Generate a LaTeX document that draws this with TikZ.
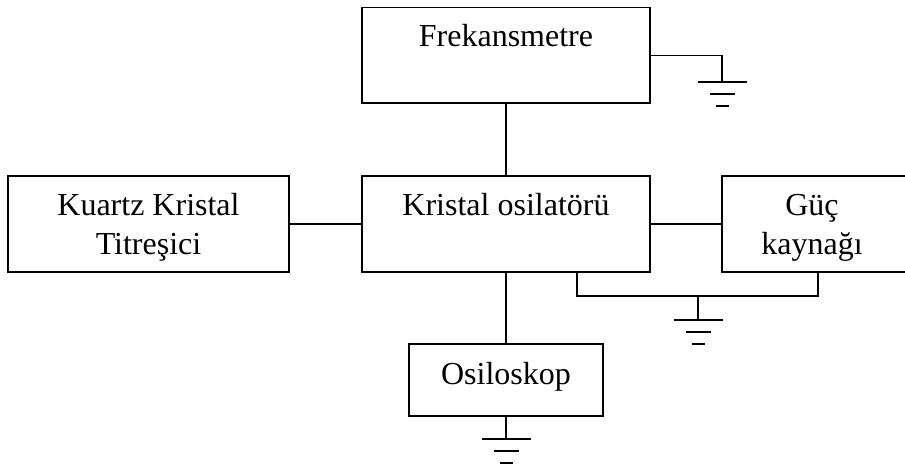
\documentclass[tikz,border=0pt]{standalone}
\usepackage{fontspec}
\setmainfont{Liberation Serif}
\begin{document}
\begin{tikzpicture}[x=1pt,y=-1pt,line width=1.2pt,
  box/.style={draw,rectangle,inner sep=0pt},
  lbl/.style={anchor=base,inner sep=0pt,font=\fontsize{32}{38}\selectfont},
  gnd/.pic={\draw (-24.5,0)--(24.5,0); \draw (-12.5,12)--(12.5,12); \draw (-6.5,24)--(6.5,24);}]
\useasboundingbox (0,0) rectangle (905,468);
% boxes
\node[box,minimum width=288pt,minimum height=95.5pt] (frek) at (506,55.25) {};
\node[box,minimum width=288pt,minimum height=96pt] (osc) at (506,224) {};
\node[box,minimum width=281pt,minimum height=96pt] (quartz) at (148.5,224) {};
\node[box,minimum width=186pt,minimum height=96pt] (guc) at (815,224) {};
\node[box,minimum width=194pt,minimum height=72pt] (osil) at (506,380) {};
% labels
\node[lbl] (tfrek) at (506,47) {Frekansmetre};
\node[lbl] (tosc) at (506,215) {Kristal osilatörü};
\node[lbl] (tq1) at (148.5,215) {Kuartz Kristal};
\node[lbl] (tq2) at (148.5,254) {Titreşici};
\node[lbl] (tg1) at (812,215) {Güç};
\node[lbl] (tg2) at (812,254) {kaynağı};
\node[lbl] (tosil) at (506,384) {Osiloskop};
% ground points
\coordinate (g1) at (722,82);
\coordinate (g2) at (698,320);
\coordinate (g3) at (506,439);
\coordinate (b1) at (577,296);
\coordinate (b2) at (818,296);
\coordinate (bm) at (698,296);
% connectors
\draw (frek.south) -- (osc.north);
\draw (quartz.east) -- (osc.west);
\draw (osc.east) -- (guc.west);
\draw (osc.south) -- (osil.north);
\draw (frek.east) -| (g1);
\draw (b1 |- osc.south) -- (b1) -- (b2) -- (b2 |- guc.south);
\draw (bm) -- (g2);
\draw (osil.south) -- (g3);
\pic at (g1) {gnd};
\pic at (g2) {gnd};
\pic at (g3) {gnd};
\end{tikzpicture}
\end{document}
